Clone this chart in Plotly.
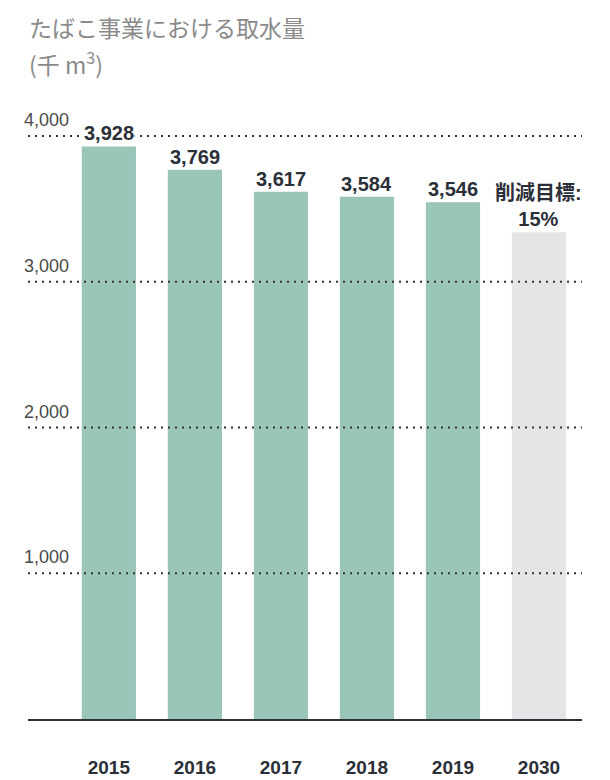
import plotly.graph_objects as go

# たばこ事業における取水量 (千 m3)
years = ["2015", "2016", "2017", "2018", "2019", "2030"]
values = [3928, 3769, 3617, 3584, 3546, 3339]
value_labels = ["3,928", "3,769", "3,617", "3,584", "3,546", "削減目標:<br>15%"]
bar_colors = ["#9AC6BA", "#9AC6BA", "#9AC6BA", "#9AC6BA", "#9AC6BA", "#E5E5E8"]
grid_values = [1000, 2000, 3000, 4000]
grid_labels = ["1,000", "2,000", "3,000", "4,000"]

font_main = "Liberation Sans, Noto Sans CJK JP, sans-serif"
dark = "#2B2F38"

fig = go.Figure(go.Bar(
    x=list(range(len(years))),
    y=values,
    marker=dict(color=bar_colors, line=dict(width=0)),
    width=0.63,
    hoverinfo="skip",
))

# dotted gridlines drawn over the bars
for v in grid_values:
    fig.add_shape(type="line", xref="paper", yref="y", x0=0, x1=1, y0=v, y1=v,
                  line=dict(color="#333333", width=2, dash="2px,5px"), layer="above")

# y tick labels sit above the gridlines on the left
for v, lab in zip(grid_values, grid_labels):
    fig.add_annotation(x=0, xref="paper", y=v, yref="y", text=lab,
                       xanchor="left", yanchor="bottom", xshift=-6, yshift=4,
                       showarrow=False,
                       font=dict(family=font_main, size=18, color="#4A4A4A"))

# value labels on top of bars
for i, (v, lab) in enumerate(zip(values, value_labels)):
    fig.add_annotation(x=i, y=v, text="<b>" + lab + "</b>", xanchor="center",
                       yanchor="bottom", yshift=1, showarrow=False,
                       bgcolor="white", borderpad=0,
                       font=dict(family=font_main, size=20, color=dark))

# title and unit
title_font = dict(family="Noto Sans CJK JP, sans-serif", size=23, color="#8A8A8A")
fig.add_annotation(x=0, xref="paper", y=1.147, yref="paper",
                   text="たばこ事業における取水量",
                   xanchor="left", yanchor="top", showarrow=False,
                   borderpad=0, font=title_font)
fig.add_annotation(x=0, xref="paper", y=1.091, yref="paper",
                   text="(千 m<sup>3</sup>)",
                   xanchor="left", yanchor="top", showarrow=False,
                   borderpad=0, font=title_font)

fig.update_layout(
    width=610, height=780,
    margin=dict(l=20, r=36, t=92, b=69),
    plot_bgcolor="white", paper_bgcolor="white",
    showlegend=False,
    xaxis=dict(
        range=[-0.94, 5.5],
        tickmode="array",
        tickvals=list(range(len(years))),
        ticktext=["<b>" + y + "</b>" for y in years],
        tickfont=dict(family=font_main, size=19, color=dark),
        ticklabelstandoff=30,
        automargin=False,
        showgrid=False, zeroline=False,
        showline=True, linecolor=dark, linewidth=2,
        ticks="",
        fixedrange=True,
    ),
    yaxis=dict(
        range=[0, 4247],
        automargin=False,
        showgrid=False, zeroline=False, showticklabels=False,
        fixedrange=True,
    ),
)

fig.write_html("out.html")
